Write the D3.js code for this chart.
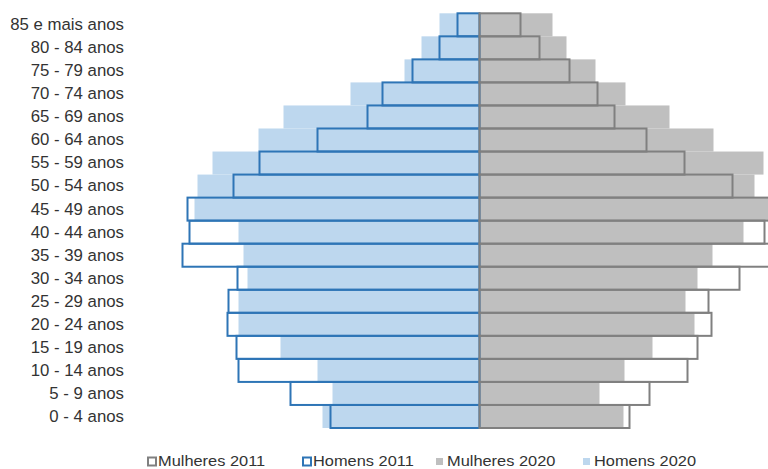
<!DOCTYPE html>
<html>
<head>
<meta charset="utf-8">
<script src="https://cdn.jsdelivr.net/npm/d3@7/dist/d3.min.js"></script>
<style>
  html, body { margin: 0; padding: 0; background: #fff; }
  svg { display: block; font-family: "Liberation Sans", Arial, sans-serif; }
</style>
</head>
<body>
<svg id="chart" width="768" height="469"></svg>
<script>
// Age groups, from youngest to oldest
const ageGroups = ["0 - 4 anos", "5 - 9 anos", "10 - 14 anos", "15 - 19 anos", "20 - 24 anos",
  "25 - 29 anos", "30 - 34 anos", "35 - 39 anos", "40 - 44 anos", "45 - 49 anos",
  "50 - 54 anos", "55 - 59 anos", "60 - 64 anos", "65 - 69 anos", "70 - 74 anos",
  "75 - 79 anos", "80 - 84 anos", "85 e mais anos"];

// Estimated relative population sizes (same units for all series)
const homens2020   = [157, 147, 162, 199, 241, 241, 232, 236, 241, 285, 282, 267, 221, 196, 129, 75, 58, 40];
const homens2011   = [149, 189, 241, 243, 252, 251, 242, 297, 290, 292, 246, 220, 162, 112, 97, 67, 40, 22];
const mulheres2020 = [144, 120, 145, 173, 215, 206, 218, 233, 264, 300, 275, 284, 234, 190, 146, 116, 87, 73];
const mulheres2011 = [150, 170, 208, 218, 232, 229, 260, 305, 285, 298, 253, 205, 167, 135, 118, 90, 60, 41];

const legendLabels = ["Mulheres 2011", "Homens 2011", "Mulheres 2020", "Homens 2020"];

const svg = d3.select("#chart");
const cx = 479.5;
const maxVal = 300;

const y = d3.scaleBand()
  .domain(ageGroups.slice().reverse())
  .range([13.3, 428])
  .padding(0);

const xR = d3.scaleLinear().domain([0, maxVal]).range([cx, cx + 300]);
const xL = d3.scaleLinear().domain([0, maxVal]).range([cx, cx - 300]);

const rows = ageGroups.map((g, i) => ({
  g, h20: homens2020[i], h11: homens2011[i], m20: mulheres2020[i], m11: mulheres2011[i]
}));

const colors = {
  blueFill: "#BDD7EE", grayFill: "#BFBFBF", blueLine: "#2E75B6", grayLine: "#808080"
};

// 2020 filled bars
svg.append("g").selectAll("rect").data(rows).join("rect")
  .attr("x", d => xL(d.h20)).attr("y", d => y(d.g))
  .attr("width", d => xL(0) - xL(d.h20)).attr("height", y.bandwidth())
  .attr("fill", colors.blueFill);

svg.append("g").selectAll("rect").data(rows).join("rect")
  .attr("x", xR(0)).attr("y", d => y(d.g))
  .attr("width", d => xR(d.m20) - xR(0)).attr("height", y.bandwidth())
  .attr("fill", colors.grayFill);

// 2011 outlined bars
svg.append("g").selectAll("rect").data(rows).join("rect")
  .attr("x", d => xL(d.h11)).attr("y", d => y(d.g))
  .attr("width", d => xL(0) - xL(d.h11)).attr("height", y.bandwidth())
  .attr("fill", "none").attr("stroke", colors.blueLine).attr("stroke-width", 2);

svg.append("g").selectAll("rect").data(rows).join("rect")
  .attr("x", xR(0)).attr("y", d => y(d.g))
  .attr("width", d => xR(d.m11) - xR(0)).attr("height", y.bandwidth())
  .attr("fill", "none").attr("stroke", colors.grayLine).attr("stroke-width", 2);

// Category labels
const yAxis = d3.axisLeft(y).tickSize(0).tickPadding(0);
const ag = svg.append("g").attr("transform", "translate(124,0)").call(yAxis);
ag.select(".domain").remove();
ag.selectAll("text")
  .attr("font-size", 16.8)
  .attr("font-family", "Liberation Sans, Arial, sans-serif")
  .attr("fill", "#333");

// Legend
const legendX = [147, 302, 436, 583];
const lg = svg.append("g");
legendLabels.forEach((lab, i) => {
  const g = lg.append("g").attr("transform", `translate(${legendX[i]},0)`);
  if (i < 2) {
    g.append("rect").attr("x", 1).attr("y", 457.5).attr("width", 8).attr("height", 8)
      .attr("fill", "#fff").attr("stroke", i === 0 ? colors.grayLine : colors.blueLine).attr("stroke-width", 2);
  } else {
    g.append("rect").attr("x", 0).attr("y", 458).attr("width", 7).attr("height", 7)
      .attr("fill", i === 2 ? colors.grayFill : colors.blueFill);
  }
  g.append("text")
    .attr("transform", "translate(11,465.5) scale(1.13,1)")
    .attr("font-size", 14.5).attr("fill", "#333").text(lab);
});
</script>
</body>
</html>
